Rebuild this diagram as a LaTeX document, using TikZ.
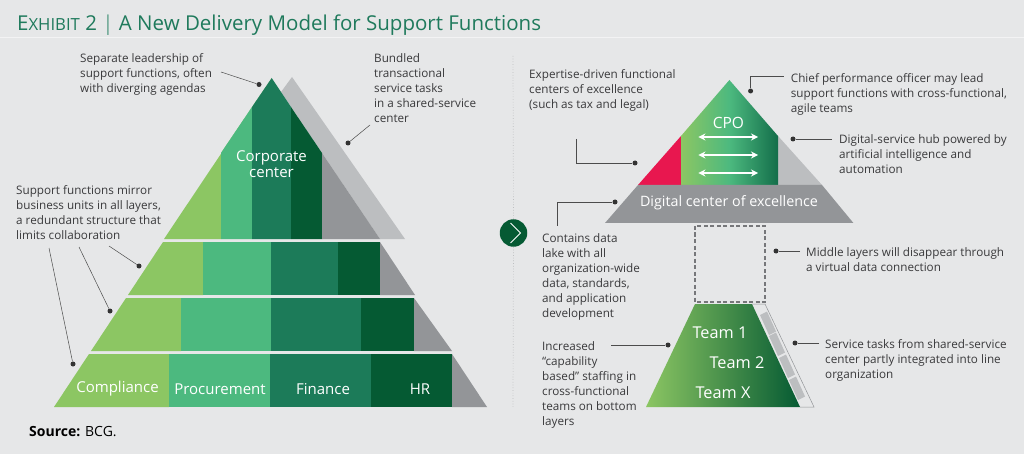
\documentclass[tikz,border=0pt]{standalone}
\usepackage{fontspec}
\setmainfont{Open Sans}
\usetikzlibrary{arrows.meta}
\definecolor{pagegrey}{HTML}{E6E7E8}
\definecolor{titlegreen}{HTML}{1F7A5C}
\definecolor{lightgreen}{HTML}{8CC663}
\definecolor{midgreen}{HTML}{4CB97F}
\definecolor{tealgreen}{HTML}{1C7B59}
\definecolor{darkgreen}{HTML}{055A33}
\definecolor{darkgrey}{HTML}{939598}
\definecolor{lightgrey}{HTML}{BCBEC0}
\definecolor{hotred}{HTML}{E8174F}
\definecolor{inkgrey}{HTML}{3A3A3C}
\tikzset{
  note/.style={anchor=north west,align=left,inner sep=0pt,text=inkgrey,font=\fontsize{11.7}{15}\selectfont},
  label/.style={text=white,inner sep=0pt,font=\fontsize{15}{16}\selectfont},
  teamlabel/.style={text=white,inner sep=0pt,font=\fontsize{16.3}{18}\selectfont},
  dot/.style={circle,fill=black!80,inner sep=0pt,minimum size=5pt},
  leader/.style={draw=black!70,line width=0.5pt},
  slant/.style={left color=lightgreen,right color=tealgreen!60!darkgreen,middle color=midgreen},
  swap/.style={white,line width=1.2pt,{Stealth[length=7pt,width=7pt]}-{Stealth[length=7pt,width=7pt]}}
}
\begin{document}
\begin{tikzpicture}[x=1pt,y=-1pt]
  \fill[pagegrey] (0,0) rectangle (1024,454);
  \useasboundingbox (0,0) rectangle (1024,454);

  % title
  \node (title) [anchor=west,inner sep=0pt,text=titlegreen,font=\fontsize{20.5}{22}\selectfont] at (17,25)
    {{\fontsize{20.5}{22}\selectfont E}{\fontsize{16.7}{22}\selectfont XHIBIT} 2 {\color{titlegreen!70}|} A New Delivery Model for Support Functions};
  \draw[pagegrey!50!white,line width=0.5pt] (0,37) -- (1024,37);

  % left pyramid, top tier
  \fill[lightgrey] (292,77) -- (405,239) -- (380,239) -- (281,92) -- cycle;
  \fill[lightgreen] (271.7,78) -- (164,239) -- (221,239) -- (221,153) -- cycle;
  \fill[midgreen] (221,153) -- (221,239) -- (252,239) -- (252,107) -- cycle;
  \fill[tealgreen] (252,107) -- (252,239) -- (291,239) -- (291,107) -- (271.7,78) -- cycle;
  \fill[darkgreen] (291,107) -- (291,239) -- (322,239) -- (322,153) -- cycle;
  \fill[darkgrey] (322,153) -- (322,239) -- (380,239) -- cycle;

  % left pyramid, three lower tiers
  \fill[lightgreen] (163,242) -- (128,295) -- (203,295) -- (203,242) -- cycle;
  \fill[midgreen] (203,242) rectangle (271,295);
  \fill[tealgreen] (271,242) rectangle (338,295);
  \fill[darkgreen] (338,242) rectangle (380,295);
  \fill[darkgrey] (380,242) -- (415,295) -- (380,295) -- cycle;

  \fill[lightgreen] (126,298) -- (91,351) -- (181,351) -- (181,298) -- cycle;
  \fill[midgreen] (181,298) rectangle (271,351);
  \fill[tealgreen] (271,298) rectangle (361,351);
  \fill[darkgreen] (361,298) rectangle (414,351);
  \fill[darkgrey] (414,298) -- (452,351) -- (414,351) -- cycle;

  \fill[lightgreen] (89,354) -- (54,407) -- (169,407) -- (169,354) -- cycle;
  \fill[midgreen] (169,354) rectangle (270,407);
  \fill[tealgreen] (270,354) rectangle (371,407);
  \fill[darkgreen] (371,354) rectangle (452,407);
  \fill[darkgrey] (452,354) -- (487,407) -- (452,407) -- cycle;

  \node (corporate) [label,align=center] at (271.5,164) {Corporate\\center};
  \node (compliance) [label] at (117.5,389) {Compliance};
  \node (procurement) [label] at (220,389) {Procurement};
  \node (finance) [label] at (323,389) {Finance};
  \node (hr) [label] at (420,389) {HR};

  % left notes
  \node (separate) [note] at (80,53) {Separate leadership of\\support functions, often\\with diverging agendas};
  \node (bundled) [note] at (374,53) {Bundled\\transactional\\service tasks\\in a shared-service\\center};
  \node (mirror) [note] at (16,185) {Support functions mirror\\business units in all layers,\\a redundant structure that\\limits collaboration};
  \node (dotlead) [dot] at (259,84.5) {};
  \node (dotshared) [dot] at (348,143) {};
  \node (dottwo) [dot] at (139,266) {};
  \node (dotthree) [dot] at (110,311) {};
  \node (dotfour) [dot] at (73,364) {};
  \coordinate (endlead) at (221,72);
  \coordinate (endshared) at (370,125);
  \coordinate (endtwo) at (109,246);
  \coordinate (endthree) at (79,247);
  \coordinate (endfour) at (49,248);
  \draw[leader] (endlead) -- (dotlead);
  \draw[leader] (endshared) -- (dotshared);
  \draw[leader] (endtwo) -- (dottwo);
  \draw[leader] (endthree) -- (dotthree);
  \draw[leader] (endfour) -- (dotfour);

  % divider and chevron
  \coordinate (dividertop) at (513,56);
  \coordinate (dividerend) at (513,407);
  \node (chevron) [circle,fill=darkgreen,inner sep=0pt,minimum size=27.5pt] at (513.5,233) {};
  \draw[lightgrey,line width=0.7pt,dotted] (dividertop) -- (chevron);
  \draw[lightgrey,line width=0.7pt,dotted] (chevron) -- (dividerend);
  \draw[white,line width=0.9pt] (510.5,223) -- (520.5,233) -- (510.5,243);

  % right pyramid
  \fill[hotred] (638,185) -- (681,185) -- (681,136) -- cycle;
  \fill[lightgrey] (778,136) -- (778,185) -- (822,185) -- cycle;
  \shade[slant] (729.4,80) -- (681,136) -- (681,185) -- (778,185) -- (778,136) -- cycle;
  \fill[darkgrey] (638,185) -- (822,185) -- (853.4,223) -- (605,223) -- cycle;
  \node (cpo) [label,font=\fontsize{15.5}{18}\selectfont] at (728.4,123) {CPO};
  \node (digital) [label,font=\fontsize{14.3}{18}\selectfont] at (729,203) {Digital center of excellence};
  \foreach \yy in {137,155,173}
    \draw[swap] (698.4,\yy) -- (758,\yy);

  % dashed middle and bottom layer
  \draw[darkgrey!80!black,line width=1.3pt,dash pattern=on 4pt off 2.5pt] (695,226) rectangle (765,302);
  \draw[darkgrey,line width=0.5pt] (752,304) -- (765,304) -- (814,407) -- (800,407);
  \foreach \xa/\ya in {760/315,769/336,779/358,789/380}
    \fill[lightgrey] (\xa,\ya) -- ++(7,-3.5) -- ++(9,20) -- ++(-7,3.5) -- cycle;
  \shade[slant,right color=darkgreen] (695,304) -- (752,304) -- (800,407) -- (646,407) -- cycle;
  \node (teamone) [teamlabel] at (720,333) {Team 1};
  \node (teamtwo) [teamlabel] at (737,363) {Team 2};
  \node (teamx) [teamlabel] at (723,393) {Team X};

  % right notes
  \node (expertise) [note] at (529,69) {Expertise-driven functional\\centers of excellence\\(such as tax and legal)};
  \node (chief) [note] at (790.7,73) {Chief performance officer may lead\\support functions with cross-functional,\\agile teams};
  \node (hub) [note] at (839,134) {Digital-service hub powered by\\artificial intelligence and\\automation};
  \node (contains) [note] at (542,233) {Contains data\\lake with all\\organization-wide\\data, standards,\\and application\\development};
  \node (middle) [note] at (806,247) {Middle layers will disappear through\\a virtual data connection};
  \node (service) [note] at (825,339) {Service tasks from shared-service\\center partly integrated into line\\organization};
  \node (increased) [note] at (542,341) {Increased\\“capability\\based” staffing in\\cross-functional\\teams on bottom\\layers};

  \node (dotcpo) [dot] at (750.6,91) {};
  \node (dothub) [dot] at (793,139) {};
  \node (dotexpert) [dot] at (635,163) {};
  \node (dotlake) [dot] at (615,202) {};
  \node (dotmiddle) [dot] at (776,251) {};
  \node (dottasks) [dot] at (795,343) {};
  \node (dotstaff) [dot] at (668,345) {};
  \coordinate (endcpo) at (783.6,76);
  \coordinate (endhub) at (832,139);
  \coordinate (endexpert) at (576.5,139);
  \coordinate (endlake) at (557,226);
  \coordinate (endmiddle) at (800,251);
  \coordinate (endtasks) at (819,343);
  \coordinate (endstaff) at (611,345);
  \draw[leader] (endcpo) -| (dotcpo);
  \draw[leader] (endhub) -- (dothub);
  \draw[leader] (endexpert) |- (dotexpert);
  \draw[leader] (endlake) |- (dotlake);
  \draw[leader] (endmiddle) -- (dotmiddle);
  \draw[leader] (endtasks) -- (dottasks);
  \draw[leader] (endstaff) -- (dotstaff);

  \node (source) [anchor=west,inner sep=0pt,text=black,font=\fontsize{14}{16}\selectfont] at (29,432) {\textbf{Source:} BCG.};
\end{tikzpicture}
\end{document}
